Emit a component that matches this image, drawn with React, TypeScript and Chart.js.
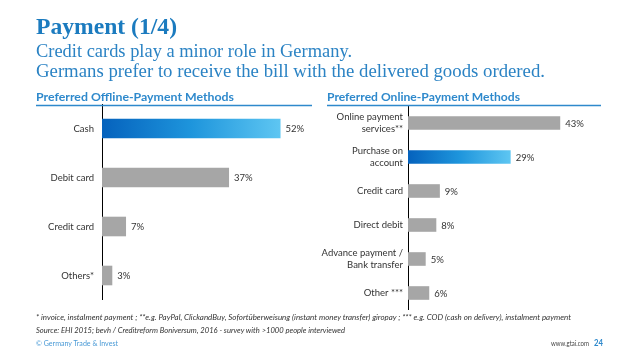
import React, { useEffect, useRef } from "react";
import { Chart, registerables } from "chart.js";

Chart.register(...registerables);

const offlineLabels: (string | string[])[] = ["Cash", "Debit card", "Credit card", "Others*"];
const offlineValues: number[] = [52, 37, 7, 3];
const offlineHighlight = 0;

const onlineLabels: (string | string[])[] = [
  ["Online payment", "services**"],
  ["Purchase on", "account"],
  "Credit card",
  "Direct debit",
  ["Advance payment /", "Bank transfer"],
  "Other ***",
];
const onlineValues: number[] = [43, 29, 9, 8, 5, 6];
const onlineHighlight = 1;

const GRAY = "#a6a6a6";
const LABEL_FONT = "Lato, 'Open Sans', sans-serif";

const valueLabelPlugin = {
  id: "valueLabels",
  afterDatasetsDraw(chart: any) {
    const ctx = chart.ctx;
    const meta = chart.getDatasetMeta(0);
    const data = chart.data.datasets[0].data as number[];
    ctx.save();
    ctx.font = `9.5px ${LABEL_FONT}`;
    ctx.fillStyle = "#333333";
    ctx.textAlign = "left";
    ctx.textBaseline = "middle";
    meta.data.forEach((el: any, i: number) => {
      ctx.fillText(`${data[i]}%`, el.x + 5, el.y + 0.5);
    });
    ctx.restore();
  },
};

function makeChart(
  canvas: HTMLCanvasElement,
  labels: (string | string[])[],
  values: number[],
  highlight: number,
  max: number,
  axisWidth: number,
  tickPad: number
) {
  return new Chart(canvas, {
    type: "bar",
    data: {
      labels,
      datasets: [
        {
          data: values,
          backgroundColor: (c: any) => {
            if (c.dataIndex !== highlight) return GRAY;
            const chart = c.chart;
            const area = chart.chartArea;
            if (!area) return "#2a8fd8";
            const x1 = chart.scales.x.getPixelForValue(values[highlight]);
            const g = chart.ctx.createLinearGradient(area.left, 0, x1, 0);
            g.addColorStop(0, "#0562bd");
            g.addColorStop(0.5, "#1e95dc");
            g.addColorStop(1, "#5ec6f2");
            return g;
          },
          borderWidth: 0,
          barPercentage: 0.8,
          categoryPercentage: 0.5,
        },
      ],
    },
    options: {
      indexAxis: "y",
      responsive: false,
      animation: false,
      devicePixelRatio: 1,
      layout: { padding: 0, autoPadding: false },
      plugins: {
        legend: { display: false },
        tooltip: { enabled: false },
        title: { display: false },
      },
      scales: {
        x: {
          display: false,
          min: 0,
          max,
        },
        y: {
          grid: { display: false, drawTicks: false },
          border: { display: true, color: "#000000", width: 1 },
          ticks: {
            padding: tickPad,
            color: "#333333",
            font: { family: LABEL_FONT, size: 9.5, lineHeight: 1.3 },
          },
          afterFit: (scale: any) => {
            scale.width = axisWidth;
            scale.paddingTop = 0;
            scale.paddingBottom = 0;
          },
        },
      },
    } as any,
    plugins: [valueLabelPlugin],
  });
}

export default function App() {
  const leftRef = useRef<HTMLCanvasElement>(null);
  const rightRef = useRef<HTMLCanvasElement>(null);

  useEffect(() => {
    const c1 = makeChart(leftRef.current!, offlineLabels, offlineValues, offlineHighlight, 60, 72, 8);
    const c2 = makeChart(rightRef.current!, onlineLabels, onlineValues, onlineHighlight, 50, 88, 5);
    return () => {
      c1.destroy();
      c2.destroy();
    };
  }, []);

  const serif = "'Liberation Serif', 'DejaVu Serif', serif";
  const sans = LABEL_FONT;

  return (
    <div style={{ position: "absolute", left: 0, top: 0, width: 638, height: 359, background: "#ffffff", overflow: "hidden" }}>
      <canvas
        ref={leftRef}
        width={278}
        height={196}
        style={{ position: "absolute", left: 30, top: 104, width: 278, height: 196 }}
      />
      <canvas
        ref={rightRef}
        width={265}
        height={204}
        style={{ position: "absolute", left: 320, top: 106, width: 265, height: 204 }}
      />
      <svg
        width={638}
        height={359}
        style={{ position: "absolute", left: 0, top: 0, pointerEvents: "none" }}
      >
        <text x={36} y={34} textLength={141} lengthAdjust="spacingAndGlyphs"
          style={{ font: `bold 24px ${serif}`, fill: "#1b7bbf" }}>Payment (1/4)</text>
        <text x={36} y={57} textLength={316} lengthAdjust="spacingAndGlyphs"
          style={{ font: `18.5px ${serif}`, fill: "#2b83c4" }}>Credit cards play a minor role in Germany.</text>
        <text x={36} y={77} textLength={509} lengthAdjust="spacingAndGlyphs"
          style={{ font: `18.5px ${serif}`, fill: "#2b83c4" }}>Germans prefer to receive the bill with the delivered goods ordered.</text>

        <text x={36} y={101} textLength={198} lengthAdjust="spacingAndGlyphs"
          style={{ font: `bold 12px ${sans}`, fill: "#2e89cc" }}>Preferred Offline-Payment Methods</text>
        <line x1={36} y1={105.5} x2={312} y2={105.5} stroke="#2e89cc" strokeWidth={1.3} />
        <text x={327} y={101} textLength={193} lengthAdjust="spacingAndGlyphs"
          style={{ font: `bold 12px ${sans}`, fill: "#2e89cc" }}>Preferred Online-Payment Methods</text>
        <line x1={327} y1={105.5} x2={601} y2={105.5} stroke="#2e89cc" strokeWidth={1.3} />

        <text x={36} y={320} textLength={535} lengthAdjust="spacingAndGlyphs"
          style={{ font: `italic 7.5px ${sans}`, fill: "#333333" }}>
          {"* invoice, instalment payment ; **e.g. PayPal,  ClickandBuy, Sofortüberweisung (instant money transfer) giropay ; *** e.g. COD (cash on delivery), instalment payment"}
        </text>
        <text x={36} y={333} textLength={309} lengthAdjust="spacingAndGlyphs"
          style={{ font: `italic 7.5px ${sans}`, fill: "#333333" }}>
          {"Source: EHI 2015; bevh / Creditreform Boniversum, 2016 - survey with >1000 people interviewed"}
        </text>
        <text x={36} y={346} textLength={82} lengthAdjust="spacingAndGlyphs"
          style={{ font: `7.5px ${sans}`, fill: "#4a9ad6" }}>© Germany Trade &amp; Invest</text>
        <text x={551} y={346} textLength={38} lengthAdjust="spacingAndGlyphs"
          style={{ font: `8px ${sans}`, fill: "#444444" }}>www.gtai.com</text>
        <text x={594} y={346} textLength={9} lengthAdjust="spacingAndGlyphs"
          style={{ font: `bold 9px ${sans}`, fill: "#2e89cc" }}>24</text>
      </svg>
    </div>
  );
}
